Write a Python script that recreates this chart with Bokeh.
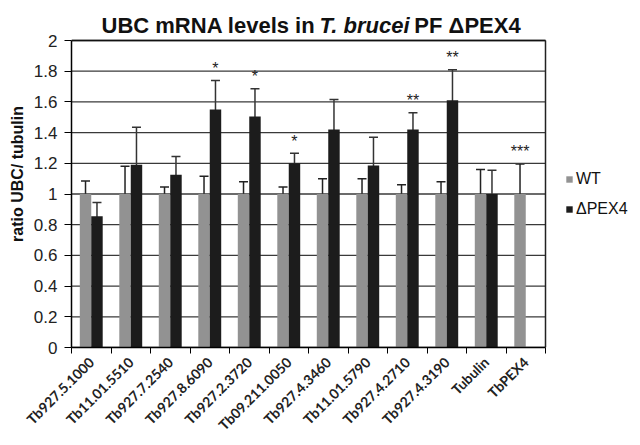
from bokeh.plotting import figure
from bokeh.models import (ColumnDataSource, Range1d, LinearAxis,
                          FixedTicker, Whisker, TeeHead, Legend, LegendItem)
from bokeh.transform import dodge
from bokeh.core.properties import value
from bokeh.embed import file_html
from bokeh.resources import INLINE
from math import pi

# ---- data ----
genes = ["Tb927.5.1000", "Tb11.01.5510", "Tb927.7.2540", "Tb927.8.6090", "Tb927.2.3720",
         "Tb09.211.0050", "Tb927.4.3460", "Tb11.01.5790", "Tb927.4.2710", "Tb927.4.3190",
         "Tubulin", "TbPEX4"]
wt = [1.0, 1.0, 1.0, 1.0, 1.0, 1.0, 1.0, 1.0, 1.0, 1.0, 1.0, 1.0]
wt_err = [0.085, 0.18, 0.045, 0.115, 0.08, 0.045, 0.10, 0.10, 0.06, 0.08, 0.16, 0.195]
pex4 = [0.855, 1.19, 1.125, 1.55, 1.505, 1.20, 1.42, 1.185, 1.42, 1.61, 1.0, 0.0]
pex4_err = [0.09, 0.245, 0.12, 0.19, 0.18, 0.065, 0.195, 0.185, 0.11, 0.20, 0.155, 0.0]
signif = ["", "", "", "*", "*", "*", "", "", "**", "**", "", "***"]
signif_series = ["pex4"] * 11 + ["wt"]
y_ticks = [0, 0.2, 0.4, 0.6, 0.8, 1.0, 1.2, 1.4, 1.6, 1.8, 2.0]
y_tick_labels = ["0", "0.2", "0.4", "0.6", "0.8", "1", "1.2", "1.4", "1.6", "1.8", "2"]
title_parts = ["UBC mRNA levels in", "T. brucei", "PF \u0394PEX4"]
title_styles = ["bold", "bold italic", "bold"]

GRAY = "#929292"
BLACK = "#1c1c1c"
OFF = 0.145
BW = 0.29
n = len(genes)
YMAX = 2.0

# frame covers the chart, title and legend area; axes are bounded to the data area
FW, FH = 560, 347
p = figure(x_range=Range1d(0, n * FW / 474.0), y_range=Range1d(0, YMAX * FH / 307.0),
           frame_width=FW, frame_height=FH,
           output_backend="svg", toolbar_location=None, x_axis_location=None,
           min_border_left=71, min_border_right=0, min_border_top=0, min_border_bottom=90)
p.background_fill_color = "white"
p.outline_line_color = None
p.xgrid.grid_line_color = None
p.ygrid.grid_line_color = None

pos = [i + 0.5 for i in range(n)]

# horizontal grid lines (incl. top border) and right border
p.segment(x0=[0] * len(y_ticks), x1=[n] * len(y_ticks), y0=y_ticks, y1=y_ticks,
          line_color="#3a3a3a", line_width=1.3)
p.segment(x0=[n], x1=[n], y0=[0], y1=[YMAX], line_color="#222222", line_width=1.5)
p.segment(x0=[0], x1=[n], y0=[YMAX], y1=[YMAX], line_color="#111111", line_width=1.4)

src = ColumnDataSource(dict(pos=pos, wt=wt, pex4=pex4,
                            wt_up=[v + e for v, e in zip(wt, wt_err)],
                            wt_lo=[v - e for v, e in zip(wt, wt_err)]))
r_wt = p.vbar(x=dodge("pos", -OFF), top="wt", width=BW, source=src,
              fill_color=GRAY, line_color=None)
r_px = p.vbar(x=dodge("pos", OFF), top="pex4", width=BW, source=src,
              fill_color=BLACK, line_color=None)

p.add_layout(Whisker(source=src, base=dodge("pos", -OFF),
                     upper="wt_up", lower="wt_lo", line_color="#222222", line_width=1.5,
                     upper_head=TeeHead(size=9, line_color="#222222", line_width=1.5),
                     lower_head=TeeHead(size=9, line_color="#222222", line_width=1.5)))

pp = [x for x, v in zip(pos, pex4) if v > 0]
pv = [v for v in pex4 if v > 0]
pe = [e for v, e in zip(pex4, pex4_err) if v > 0]
src_p = ColumnDataSource(dict(pos=pp, up=[v + e for v, e in zip(pv, pe)],
                              lo=[v - e for v, e in zip(pv, pe)]))
p.add_layout(Whisker(source=src_p, base=dodge("pos", OFF),
                     upper="up", lower="lo", line_color="#333333", line_width=1.5,
                     upper_head=TeeHead(size=9, line_color="#333333", line_width=1.5),
                     lower_head=TeeHead(size=9, line_color="#333333", line_width=1.5)))

# significance stars
sx, sy, st = [], [], []
for i, s in enumerate(signif):
    if s:
        if signif_series[i] == "wt":
            top = wt[i] + wt_err[i]
            sx.append(pos[i] - OFF)
        else:
            top = pex4[i] + pex4_err[i]
            sx.append(pos[i] + OFF)
        sy.append(top + 0.08); st.append(s)
p.text(x=sx, y=sy, text=st, text_align="center", text_baseline="alphabetic",
       text_font=value("Liberation Sans"), text_font_size="16px", text_color="#222222")

# y axis
p.yaxis.bounds = (0, YMAX)
p.yaxis.ticker = FixedTicker(ticks=y_ticks)
p.yaxis.major_label_overrides = {t: l for t, l in zip(y_ticks, y_tick_labels)}
p.yaxis.major_label_text_font = "Liberation Sans"
p.yaxis.major_label_text_font_size = "17px"
p.yaxis.major_label_text_color = "#222222"
p.yaxis.major_tick_out = 7
p.yaxis.major_tick_in = 0
p.yaxis.minor_tick_line_color = None
p.yaxis.axis_line_color = "black"
p.yaxis.axis_line_width = 1.5
p.yaxis.major_tick_line_color = "black"
p.yaxis.major_label_standoff = 7
p.yaxis.axis_label = "ratio UBC/ tubulin"
p.yaxis.axis_label_text_font = "Liberation Sans"
p.yaxis.axis_label_text_font_style = "bold"
p.yaxis.axis_label_text_font_size = "16px"
p.yaxis.axis_label_text_color = "#111111"
p.yaxis.axis_label_standoff = 5

# boundary ticks on x
bax = LinearAxis(ticker=FixedTicker(ticks=list(range(n + 1))), bounds=(0, n),
                 major_label_text_font_size="0px", major_tick_out=6, major_tick_in=0,
                 minor_tick_line_color=None, axis_line_color="black", axis_line_width=1.5,
                 major_label_standoff=0)
bax.major_label_overrides = {i: "" for i in range(n + 1)}
p.add_layout(bax, "below")
# gene labels at bar-group centres
cax = LinearAxis(ticker=FixedTicker(ticks=pos), bounds=(0, n), major_label_orientation=pi / 4,
                 major_tick_line_color=None, minor_tick_line_color=None,
                 major_tick_out=0, major_tick_in=0,
                 axis_line_color=None, major_label_text_font="Lato",
                 major_label_text_font_style="bold", major_label_text_font_size="14px",
                 major_label_text_color="#222222", major_label_standoff=6)
cax.major_label_overrides = {x: g for x, g in zip(pos, genes)}
p.add_layout(cax, "below")

legend = Legend(items=[LegendItem(label="WT", renderers=[r_wt]),
                       LegendItem(label="\u0394PEX4", renderers=[r_px])],
                location=(494, 129), orientation="vertical",
                glyph_width=8, glyph_height=8, label_standoff=3, spacing=12,
                label_text_font="Liberation Sans", label_text_font_size="16px",
                label_text_color="#111111", padding=0, margin=0,
                border_line_color=None, background_fill_alpha=0)
p.add_layout(legend)

# title (mixed upright/italic), positioned in data units above the plot area
title_x = [0.76, 6.28, 8.68]
title_y = [2.098, 2.098, 2.098]
for tx, tyv, tt, tsty in zip(title_x, title_y, title_parts, title_styles):
    p.text(x=[tx], y=[tyv], text=[tt], text_font=value("Liberation Sans"),
           text_font_style=tsty, text_font_size="22px", text_color="#111111",
           text_baseline="alphabetic", text_align="left")

open("out.html", "w").write(file_html(p, INLINE))
